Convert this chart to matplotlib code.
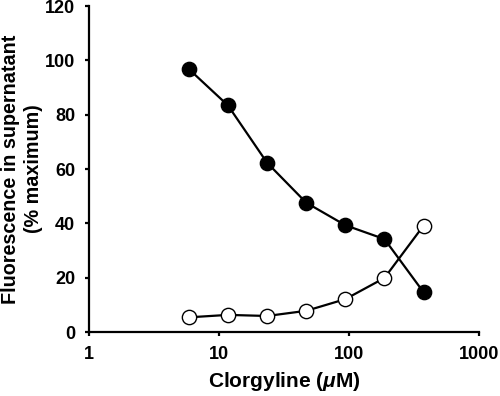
import matplotlib
matplotlib.use("Agg")
import matplotlib.pyplot as plt
from matplotlib.ticker import FixedLocator, NullLocator, FixedFormatter

plt.rcParams['font.family'] = ['Liberation Sans', 'DejaVu Sans']
plt.rcParams['mathtext.fontset'] = 'custom'
plt.rcParams['mathtext.it'] = 'Liberation Sans:italic:bold'
plt.rcParams['mathtext.rm'] = 'Liberation Sans:bold'

conc = [5.86, 11.72, 23.44, 46.875, 93.75, 187.5, 375]
filled = [96.8, 83.4, 62.3, 47.6, 39.3, 34.2, 14.6]
open_ = [5.4, 6.3, 5.9, 7.8, 12.1, 19.9, 39.2]
xticks = [1, 10, 100, 1000]
xticklabels = ['1', '10', '100', '1000']
yticks = [0, 20, 40, 60, 80, 100, 120]

fig = plt.figure(figsize=(5, 3.96), dpi=100)
ax = fig.add_axes([0.178, 0.1616, 0.78, 0.8232])

ax.plot(conc, filled, '-o', color='black', lw=1.6, ms=10.3,
        mfc='black', mec='black', mew=1, zorder=3)
ax.plot(conc, open_, '-o', color='black', lw=1.6, ms=10.3,
        mfc='white', mec='black', mew=1, zorder=3)

ax.set_xscale('log')
ax.set_xlim(1, 1000)
ax.set_ylim(0, 120)
ax.xaxis.set_major_locator(FixedLocator(xticks))
ax.xaxis.set_major_formatter(FixedFormatter(xticklabels))
ax.xaxis.set_minor_locator(NullLocator())
ax.set_yticks(yticks)

for s in ['top', 'right']:
    ax.spines[s].set_visible(False)
for s in ['left', 'bottom']:
    ax.spines[s].set_linewidth(1.6)

ax.tick_params(axis='both', direction='out', length=3, width=1.6,
               labelsize=13, pad=7)
for lab in ax.get_xticklabels() + ax.get_yticklabels():
    lab.set_fontweight('bold')

ax.set_xlabel(r'Clorgyline ($\mathit{\mu}$M)', fontsize=15, fontweight='bold', labelpad=5)
ax.set_ylabel('Fluorescence in supernatant\n(% maximum)', fontsize=14.2,
              fontweight='bold', linespacing=1.25, va='center')
ax.yaxis.set_label_coords(-0.172, 0.5)

fig.savefig('out.png', dpi=100)
